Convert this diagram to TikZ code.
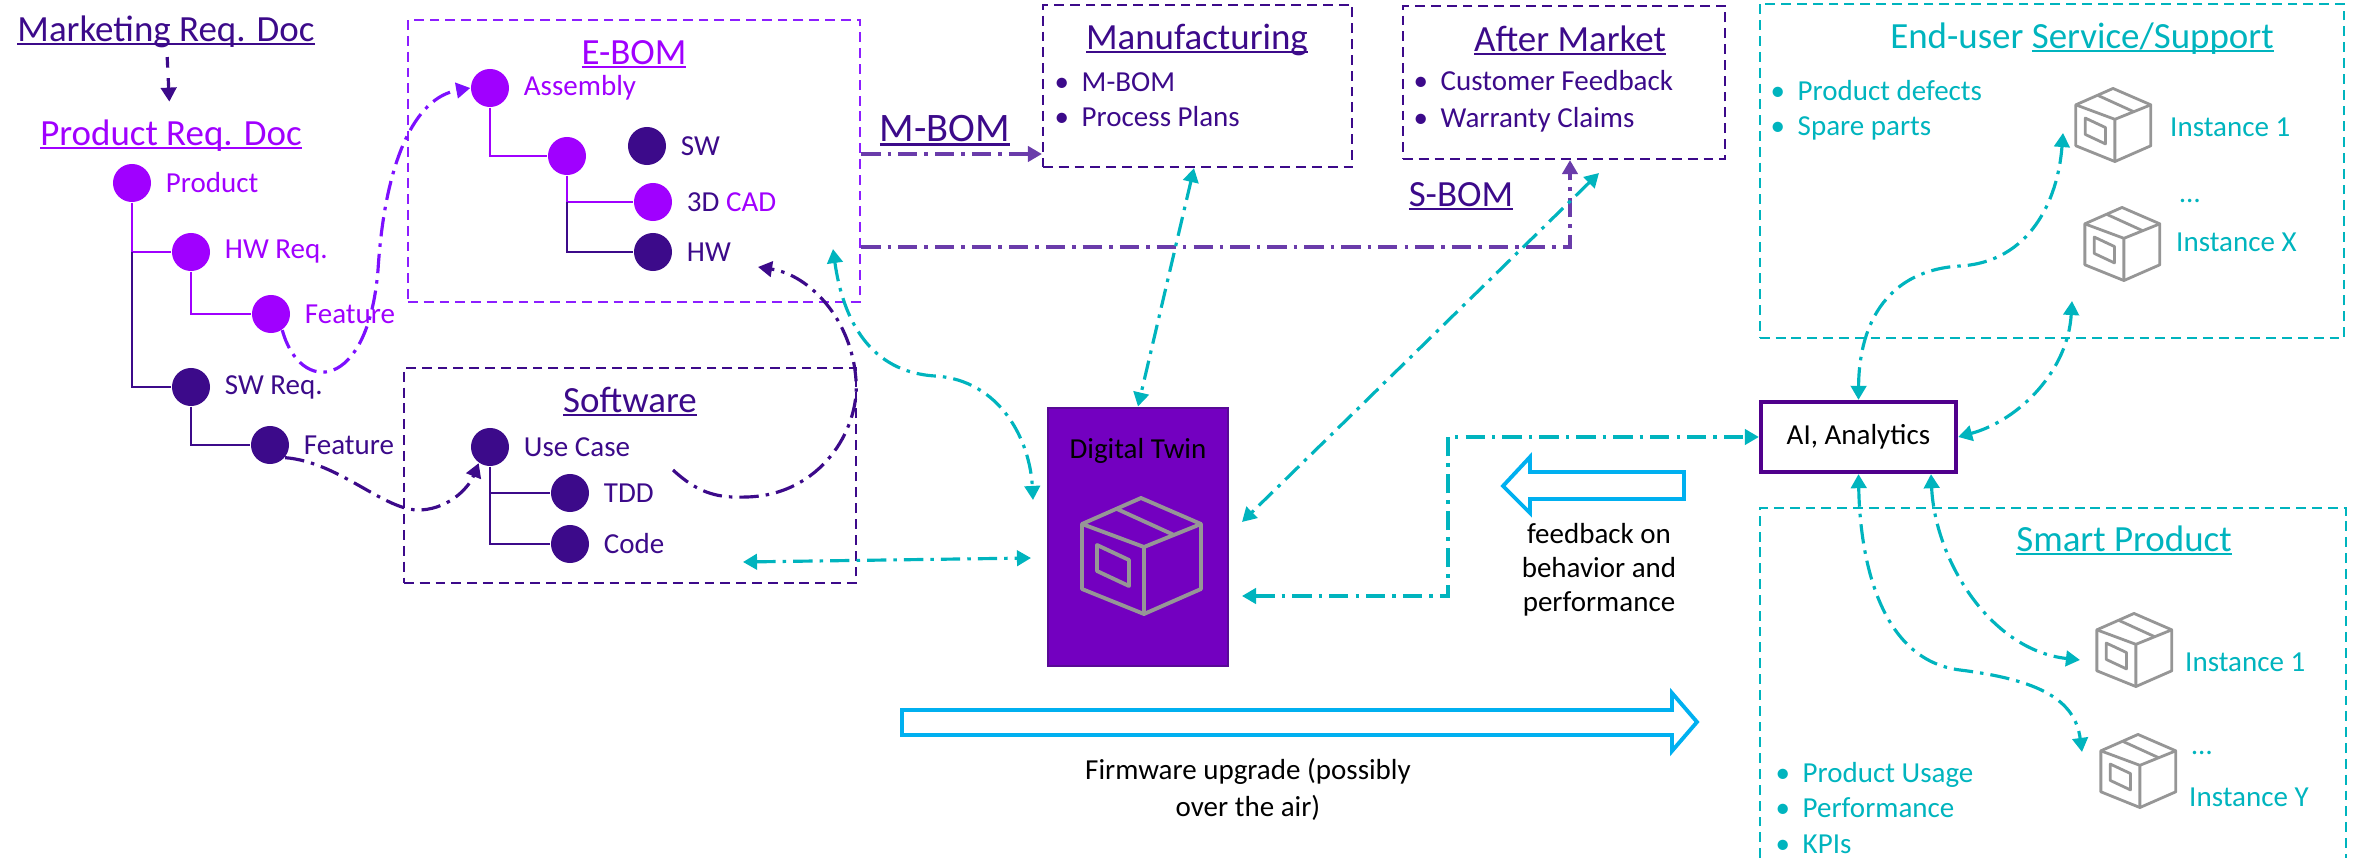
\documentclass[tikz,border=0pt]{standalone}
\usepackage{fontspec}
\setmainfont{Carlito}
\usetikzlibrary{arrows.meta, positioning}

\definecolor{vivid}{RGB}{160,0,255}
\definecolor{deepind}{RGB}{60,10,138}
\definecolor{eboxc}{RGB}{140,30,255}
\definecolor{violetln}{RGB}{125,15,255}
\definecolor{bomln}{RGB}{106,60,170}
\definecolor{tealc}{RGB}{0,180,190}
\definecolor{skyar}{RGB}{0,176,240}
\definecolor{twinfill}{RGB}{115,0,192}
\definecolor{twinedge}{RGB}{88,10,150}
\definecolor{aiedge}{RGB}{80,0,140}
\definecolor{icongray}{RGB}{150,150,150}

\newcommand{\headfont}{\fontsize{10.5}{12.5}\selectfont}
\newcommand{\bodyfont}{\fontsize{8.25}{10}\selectfont}
\newcommand{\undl}[1]{\setbox0\hbox{#1}\rlap{\rule[-0.09em]{\wd0}{0.055em}}\box0}
\newcommand{\itm}{\makebox[0.27cm][l]{\textbullet}}

\tikzset{boxicon/.pic={
  \draw[line join=round] (0,-58) -- (60,-32) -- (60,33) -- (3,58) -- (-59,33) -- (-59,-32) -- cycle;
  \draw (-59,-32) -- (3,-9) -- (60,-32) (3,-9) -- (3,58);
  \draw (-24,-47) -- (33,-21);
  \draw[line join=round] (-44,-11) -- (-12,4) -- (-12,30) -- (-44,15) -- cycle;
}}

\begin{document}
\begin{tikzpicture}[x=0.01cm, y=-0.01cm, node distance=1mm, >={Triangle[length=4pt,width=4.4pt]}]
  \tikzstyle{leaf} = [circle, minimum size=3.8mm, inner sep=0pt, fill=vivid]
  \tikzstyle{dleaf} = [leaf, fill=deepind]
  \tikzstyle{tag} = [font=\bodyfont, inner sep=1pt]
  \tikzstyle{head} = [font=\headfont, inner sep=0pt, anchor=base]
  \tikzstyle{items} = [font=\bodyfont, inner sep=0pt, align=left, anchor=west]
  \tikzstyle{group} = [draw, line width=0.6pt, dash pattern=on 2.8pt off 1.7pt, inner sep=0pt]
  \tikzstyle{branch} = [line width=0.75pt]
  \tikzstyle{link} = [line width=0.9pt, dash pattern=on 5.5pt off 2pt on 1pt off 2pt]
  \tikzstyle{twoway} = [link, tealc, <->]
  \tikzstyle{oneway} = [link, ->]
  \tikzstyle{hollow} = [draw=skyar, line width=1.1pt]

  \useasboundingbox (0,0) rectangle (2356,858);

  % requirement docs
  \node[head, deepind] (mrd) at (166,42) {\undl{Marketing Req. Doc}};
  \node[head, vivid] (prd) at (171,146) {\undl{Product Req. Doc}};
  \draw[deepind, line width=0.9pt, dashed, ->, shorten <=0.08cm, shorten >=0.18cm] (mrd) -- (prd);

  \node[leaf] (prod) at (132,183) {};
  \node[leaf] (hwreq) at (191,252) {};
  \node[leaf] (hwfeat) at (271,314) {};
  \node[dleaf] (swreq) at (191,387) {};
  \node[dleaf] (swfeat) at (270,445) {};
  \node[tag, vivid, right=of prod] (prodlbl) {Product};
  \node[tag, vivid, right=of hwreq] (hwreqlbl) {HW Req.};
  \node[tag, vivid, right=of hwfeat] (hwfeatlbl) {Feature};
  \node[tag, deepind, right=of swreq] (swreqlbl) {SW Req.};
  \node[tag, deepind, right=of swfeat] (swfeatlbl) {Feature};
  \draw[branch, vivid] (prod) |- (hwreq);
  \draw[branch, deepind] (prod |- hwreq) |- (swreq);
  \draw[branch, vivid] (hwreq) |- (hwfeat);
  \draw[branch, deepind] (swreq) |- (swfeat);

  % E-BOM
  \node[group, eboxc, minimum width=4.52cm, minimum height=2.82cm] (ebom) at (634,161) {};
  \node[head, vivid] (ebomlbl) at (634,65) {\undl{E-BOM}};
  \node[leaf] (asm) at (490,88) {};
  \node[leaf] (sub) at (567,156) {};
  \node[dleaf] (sw) at (647,146) {};
  \node[leaf] (cad) at (653,202) {};
  \node[dleaf] (hw) at (653,252) {};
  \node[tag, vivid, right=of asm] (asmlbl) {Assembly};
  \node[tag, deepind, right=of sw] (swlbl) {SW};
  \node[tag, vivid, right=of cad] (cadlbl) {{\color{deepind}3D} CAD};
  \node[tag, deepind, right=of hw] (hwlbl) {HW};
  \draw[branch, vivid] (asm) |- (sub);
  \draw[branch, vivid] (sub) |- (cad);
  \draw[branch, deepind] (sub |- cad) |- (hw);

  % Software
  \node[group, deepind, minimum width=4.52cm, minimum height=2.15cm] (soft) at (630,475.5) {};
  \node[head, deepind] (softlbl) at (630,413) {\undl{Software}};
  \node[dleaf] (uc) at (490,447) {};
  \node[dleaf] (tdd) at (570,493) {};
  \node[dleaf] (code) at (570,544) {};
  \node[tag, deepind, right=of uc] (uclbl) {Use Case};
  \node[tag, deepind, right=of tdd] (tddlbl) {TDD};
  \node[tag, deepind, right=of code] (codelbl) {Code};
  \draw[branch, deepind] (uc) |- (tdd);
  \draw[branch, deepind] (uc |- tdd) |- (code);

  % Manufacturing and After Market
  \node[group, deepind, minimum width=3.09cm, minimum height=1.62cm] (mfg) at (1197.5,86) {};
  \node[head, deepind] (mfglbl) at (1197,50) {\undl{Manufacturing}};
  \node[items, deepind] (mfglist) at (1054,100) {\itm M-BOM\\ \itm Process Plans};
  \node[group, deepind, minimum width=3.22cm, minimum height=1.53cm] (aftm) at (1564,82.5) {};
  \node[head, deepind] (aftmlbl) at (1570,52) {\undl{After Market}};
  \node[items, deepind, font=\fontsize{8.25}{10.5}\selectfont] (aftmlist) at (1413,101.5) {\itm Customer Feedback\\ \itm Warranty Claims};
  \node[head, deepind, font=\fontsize{11.5}{13}\selectfont] (mbom) at (945,142) {\undl{M-BOM}};
  \node[head, deepind] (sbom) at (1461,207) {\undl{S-BOM}};
  \draw[oneway, bomln] (ebom.east |- 0,154) -- (mfg.west |- 0,154);
  \draw[oneway, bomln] (ebom.east |- 0,247) -| (1570,0 |- aftm.south);

  % Digital twin and analytics
  \node[draw=twinedge, fill=twinfill, line width=0.8pt, minimum width=1.8cm, minimum height=2.58cm] (twin) at (1138,537) {};
  \node[tag, below=2.8mm of twin.north] (twinlbl) {Digital Twin};
  \pic[icongray, line width=1.1pt] at (1141,556) {boxicon};
  \node[draw=aiedge, line width=1.2pt, minimum width=1.95cm, minimum height=0.7cm, font=\bodyfont] (ai) at (1858.5,437) {AI, Analytics};

  % End-user Service/Support
  \node[group, tealc, minimum width=5.84cm, minimum height=3.34cm] (eu) at (2052,171) {};
  \node[head, tealc] (eulbl) at (2082,49) {End-user \undl{Service/Support}};
  \node[items, tealc] (eulist) at (1770,110.5) {\itm Product defects\\ \itm Spare parts};
  \pic[icongray, line width=0.8pt, scale=0.63] at (2113,125) {boxicon};
  \node[tag, tealc, anchor=west] (eu1) at (2166,127) {Instance 1};
  \node[tag, tealc] (eudots) at (2190,201) {…};
  \pic[icongray, line width=0.8pt, scale=0.63] at (2122,244) {boxicon};
  \node[tag, tealc, anchor=west] (eux) at (2172,242) {Instance X};

  % Smart Product
  \draw[group, tealc] (1760,858) -- (1760,508) -- (2346,508) -- (2346,858);
  \node[head, tealc] (splbl) at (2124,552) {\undl{Smart Product}};
  \node[items, tealc] (splist) at (1775,808) {\itm Product Usage\\ \itm Performance\\ \itm KPIs};
  \pic[icongray, line width=0.8pt, scale=0.63] at (2134,650) {boxicon};
  \node[tag, tealc, anchor=west] (sp1) at (2181,662) {Instance 1};
  \node[tag, tealc] (spdots) at (2202,753) {…};
  \pic[icongray, line width=0.8pt, scale=0.63] at (2138,771) {boxicon};
  \node[tag, tealc, anchor=west] (spy) at (2185,797) {Instance Y};

  % hollow arrows
  \draw[hollow] (1503,486) -- (1530,457) -- (1530,472) -- (1684,472) -- (1684,499) -- (1530,499) -- (1530,513) -- cycle;
  \node[tag, align=center, font=\fontsize{8.25}{9.7}\selectfont] (fbtxt) at (1599,570) {feedback on\\behavior and\\performance};
  \draw[hollow] (1697,722) -- (1672,693) -- (1672,710) -- (902,710) -- (902,735) -- (1672,735) -- (1672,751) -- cycle;
  \node[tag, align=center, font=\fontsize{8.25}{10.5}\selectfont] (fwtxt) at (1248,789) {Firmware upgrade (possibly\\over the air)};

  % free ends
  \coordinate (tddtail) at (673,470);
  \coordinate (hwtip) at (758,267);
  \coordinate (ebtip) at (833,249);
  \coordinate (twtop) at (1033,500);
  \coordinate (softtip) at (743,562);
  \coordinate (twleft) at (1031,558);
  \coordinate (amtip) at (1599,173);
  \coordinate (twright) at (1242,522);
  \coordinate (fbtip) at (1242,596);
  \coordinate (eu1tip) at (2063,133);
  \coordinate (euxtip) at (2072,301);
  \coordinate (sp1tip) at (2080,660);
  \coordinate (spytip) at (2082,752);

  % links
  \draw[oneway, violetln] (hwfeat.-55) .. controls (300,395) and (368,392) .. (378,270) .. controls (385,160) and (415,98) .. (asm.west);
  \draw[oneway, deepind] (swfeat.-40) .. controls (340,462) and (385,512) .. (421,510) .. controls (452,508) and (470,485) .. (uc.-125);
  \draw[oneway, deepind] (tddtail) .. controls (700,495) and (720,498) .. (747,497) .. controls (820,495) and (860,430) .. (856,380) .. controls (852,320) and (810,275) .. (hwtip);
  \draw[twoway] (ebtip) .. controls (843,320) and (870,372) .. (935,376) .. controls (1000,380) and (1030,440) .. (twtop);
  \draw[twoway] (softtip) -- (twleft);
  \draw[twoway] (1194,0 |- mfg.south) -- (twin.north);
  \draw[twoway] (amtip) -- (twright);
  \draw[twoway] (fbtip) -| (1448,0 |- ai.west) -- (ai.west);
  \draw[twoway] (ai.north) .. controls (1859,320) and (1890,270) .. (1960,266) .. controls (2030,262) and (2058,200) .. (eu1tip);
  \draw[twoway] (ai.east) .. controls (2020,420) and (2068,370) .. (euxtip);
  \draw[twoway] (1931,0 |- ai.south) .. controls (1935,560) and (1990,650) .. (sp1tip);
  \draw[twoway] (ai.south) .. controls (1860,560) and (1880,660) .. (1960,670) .. controls (2040,680) and (2075,700) .. (spytip);
\end{tikzpicture}
\end{document}
